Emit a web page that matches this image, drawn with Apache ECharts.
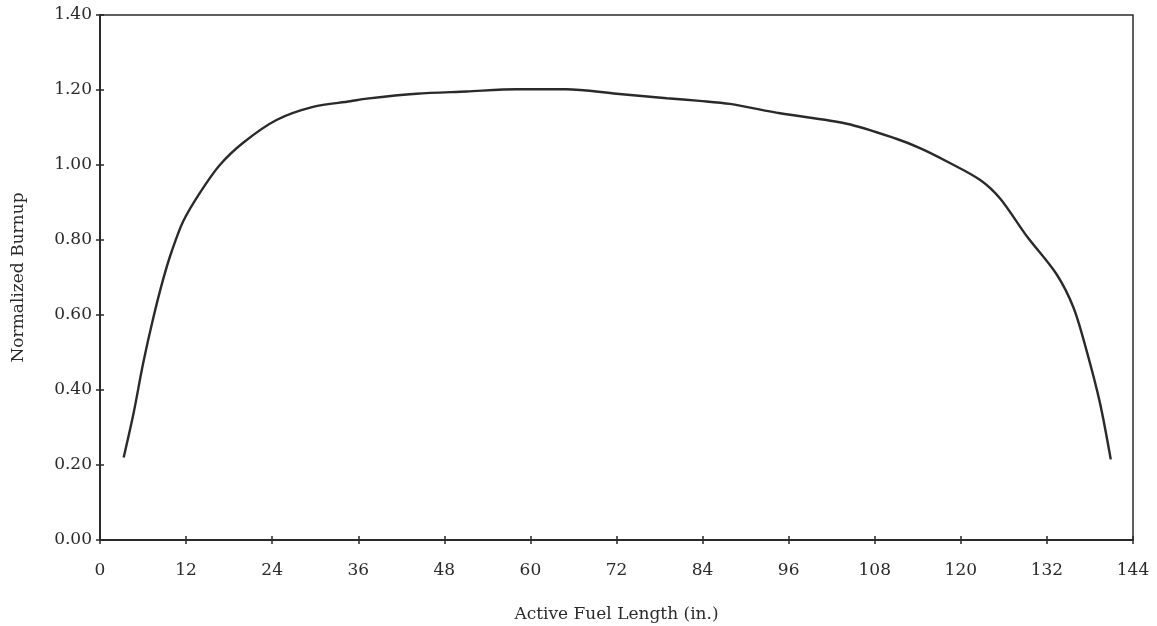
<!DOCTYPE html>
<html>
<head>
<meta charset="utf-8">
<script src="https://cdn.jsdelivr.net/npm/echarts@6/dist/echarts.min.js"></script>
<style>
  html, body { margin: 0; padding: 0; background: #fff; }
  #chart { width: 1157px; height: 626px; }
</style>
</head>
<body>
<div id="chart"></div>
<script>
// axial position along the active fuel (in.) and normalized burnup
const position = [3.3, 4.7, 6.0, 7.4, 8.8, 10.0, 11.6, 13.9, 16.7, 20.0, 24.6, 29.7, 34.9,
  37.2, 44.1, 51.1, 58.1, 65.0, 72.0, 79.0, 83.6, 87.8, 94.8, 104.1, 111.0, 114.3,
  118.0, 122.7, 125.5, 129.2, 133.3, 135.7, 137.5, 139.4, 140.9];
const burnup = [0.22, 0.34, 0.47, 0.59, 0.695, 0.77, 0.85, 0.925, 1.00, 1.06, 1.12, 1.155, 1.17,
  1.177, 1.19, 1.196, 1.202, 1.202, 1.19, 1.178, 1.171, 1.163, 1.138, 1.11, 1.07, 1.045,
  1.01, 0.96, 0.91, 0.81, 0.71, 0.62, 0.507, 0.365, 0.215];

const xTicks = [0, 12, 24, 36, 48, 60, 72, 84, 96, 108, 120, 132, 144];
const yTicks = [0, 0.2, 0.4, 0.6, 0.8, 1.0, 1.2, 1.4];

const ink = "#2a2a2a";
const font = "DejaVu Serif";

const chart = echarts.init(document.getElementById("chart"));

chart.setOption({
  animation: false,
  grid: {
    left: 100,
    right: 24,
    top: 15,
    bottom: 86,
    outerBoundsMode: "none",
    show: true,
    borderColor: ink,
    borderWidth: 1.5,
  },
  xAxis: [
    {
      type: "value",
      min: xTicks[0],
      max: xTicks[xTicks.length - 1],
      interval: 12,
      name: "Active Fuel Length (in.)",
      nameLocation: "middle",
      nameGap: 66,
      nameTextStyle: { fontFamily: font, fontSize: 17, color: ink },
      axisLine: { lineStyle: { color: ink, width: 2 } },
      axisTick: { length: 4, lineStyle: { color: ink, width: 1.5 } },
      axisLabel: { margin: 22, fontFamily: font, fontSize: 17, color: ink },
      splitLine: { show: false },
    },
    {
      type: "value",
      position: "bottom",
      min: xTicks[0],
      max: xTicks[xTicks.length - 1],
      interval: 12,
      axisLine: { show: false },
      axisTick: { inside: true, length: 4, lineStyle: { color: ink, width: 1.5 } },
      axisLabel: { show: false },
      splitLine: { show: false },
    },
  ],
  yAxis: [
    {
      type: "value",
      min: yTicks[0],
      max: yTicks[yTicks.length - 1],
      interval: 0.2,
      name: "Normalized Burnup",
      nameLocation: "middle",
      nameGap: 73,
      nameTextStyle: { fontFamily: font, fontSize: 17, color: ink },
      axisLine: { show: true, lineStyle: { color: ink, width: 2 } },
      axisTick: { show: true, length: 4, lineStyle: { color: ink, width: 1.5 } },
      axisLabel: {
        margin: 8,
        fontFamily: font,
        fontSize: 17,
        color: ink,
        formatter: (v) => v.toFixed(2),
      },
      splitLine: { show: false },
    },
    {
      type: "value",
      position: "left",
      min: yTicks[0],
      max: yTicks[yTicks.length - 1],
      interval: 0.2,
      axisLine: { show: false },
      axisTick: { show: true, inside: true, length: 4, lineStyle: { color: ink, width: 1.5 } },
      axisLabel: { show: false },
      splitLine: { show: false },
    },
  ],
  series: [
    {
      type: "line",
      data: position.map((x, i) => [x, burnup[i]]),
      smooth: 0.3,
      showSymbol: false,
      lineStyle: { color: ink, width: 2.4 },
    },
  ],
});
</script>
</body>
</html>
